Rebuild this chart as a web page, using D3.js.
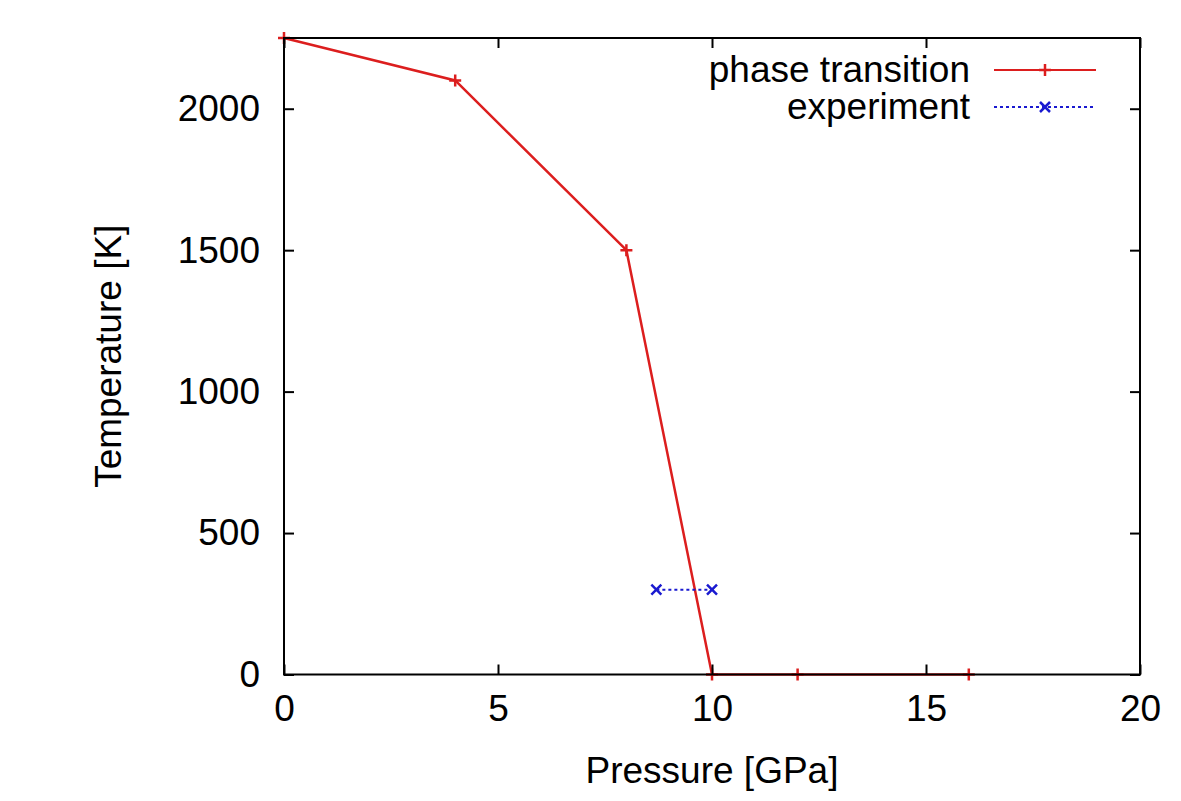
<!DOCTYPE html>
<html>
<head>
<meta charset="utf-8">
<script src="https://cdn.jsdelivr.net/npm/d3@7"></script>
<style>
  html, body { margin: 0; padding: 0; background: #fff; }
  svg { display: block; font-family: "Liberation Sans", Arial, sans-serif; }
</style>
</head>
<body>
<svg id="chart" width="1181" height="801"></svg>
<script>
// Phase boundary: pressure (GPa) vs temperature (K)
const phasePressure = [0, 4, 8, 10, 12, 16];
const phaseTemperature = [2250, 2100, 1500, 0, 0, 0];

// Experimental observations at room temperature
const expPressure = [8.7, 10];
const expTemperature = [300, 300];

const xTicks = [0, 5, 10, 15, 20];
const yTicks = [0, 500, 1000, 1500, 2000];

const seriesNames = ["phase transition", "experiment"];

const svg = d3.select("#chart");
const margin = { left: 284, right: 1140, top: 38, bottom: 674.5 };

const x = d3.scaleLinear().domain([0, 20]).range([margin.left, margin.right]);
const y = d3.scaleLinear().domain([0, 2250]).range([margin.bottom, margin.top]);

const fontSize = 37;
const tickLen = 10;
const red = "#dc1e1e";
const blue = "#1a1ad0";

// Data lines
const phase = phasePressure.map((p, i) => [p, phaseTemperature[i]]);
const exp = expPressure.map((p, i) => [p, expTemperature[i]]);

const line = d3.line().x(d => x(d[0])).y(d => y(d[1]));

svg.append("path").datum(phase)
  .attr("d", line).attr("fill", "none")
  .attr("stroke", red).attr("stroke-width", 2.5);

svg.append("path").datum(exp)
  .attr("d", line).attr("fill", "none")
  .attr("stroke", blue).attr("stroke-width", 2)
  .attr("stroke-dasharray", "3,3");

function plus(g, cx, cy, s, color) {
  g.append("path")
    .attr("d", `M${cx - s},${cy}H${cx + s}M${cx},${cy - s}V${cy + s}`)
    .attr("stroke", color).attr("stroke-width", 2.5).attr("fill", "none");
}
function cross(g, cx, cy, s, color) {
  g.append("path")
    .attr("d", `M${cx - s},${cy - s}L${cx + s},${cy + s}M${cx - s},${cy + s}L${cx + s},${cy - s}`)
    .attr("stroke", color).attr("stroke-width", 2.5).attr("fill", "none");
}

const marks = svg.append("g");
phase.forEach(d => plus(marks, x(d[0]), y(d[1]), 6, red));
exp.forEach(d => cross(marks, x(d[0]), y(d[1]), 5, blue));

// Inward ticks on all four sides, drawn with the scales
const bottomAxis = d3.axisBottom(x).tickValues(xTicks).tickSizeInner(-tickLen).tickSizeOuter(0)
  .tickPadding(20).tickFormat(d3.format("d"));
const topAxis = d3.axisTop(x).tickValues(xTicks).tickSizeInner(-tickLen).tickSizeOuter(0).tickFormat("");
const leftAxis = d3.axisLeft(y).tickValues(yTicks).tickSizeInner(-tickLen).tickSizeOuter(0)
  .tickPadding(24).tickFormat(d3.format("d"));
const rightAxis = d3.axisRight(y).tickValues(yTicks).tickSizeInner(-tickLen).tickSizeOuter(0).tickFormat("");

function style(g) {
  g.select(".domain").remove();
  g.selectAll(".tick line").attr("stroke", "#000").attr("stroke-width", 2);
  g.selectAll(".tick text").attr("fill", "#000").attr("font-size", fontSize)
    .attr("font-family", "Liberation Sans, Arial, sans-serif");
}

svg.append("g").attr("transform", `translate(0,${margin.bottom})`).call(bottomAxis).call(style);
svg.append("g").attr("transform", `translate(0,${margin.top})`).call(topAxis).call(style);
svg.append("g").attr("transform", `translate(${margin.left},0)`).call(leftAxis).call(style);
svg.append("g").attr("transform", `translate(${margin.right},0)`).call(rightAxis).call(style);

// Plot border
svg.append("rect")
  .attr("x", margin.left).attr("y", margin.top)
  .attr("width", margin.right - margin.left).attr("height", margin.bottom - margin.top)
  .attr("fill", "none").attr("stroke", "#000").attr("stroke-width", 2);

// Axis titles
svg.append("text")
  .attr("x", (margin.left + margin.right) / 2).attr("y", 783)
  .attr("text-anchor", "middle").attr("font-size", fontSize)
  .text("Pressure [GPa]");

svg.append("text")
  .attr("transform", `translate(121,${(margin.top + margin.bottom) / 2}) rotate(-90)`)
  .attr("text-anchor", "middle").attr("font-size", fontSize)
  .text("Temperature [K]");

// Legend
const legend = svg.append("g");
const legendRows = [
  { name: seriesNames[0], color: red, dash: null, mark: plus, y: 70 },
  { name: seriesNames[1], color: blue, dash: "3,3", mark: cross, y: 107 }
];
legendRows.forEach(r => {
  legend.append("text")
    .attr("x", 970).attr("y", r.y + 12)
    .attr("text-anchor", "end").attr("font-size", fontSize)
    .text(r.name);
  legend.append("line")
    .attr("x1", 994).attr("x2", 1096).attr("y1", r.y).attr("y2", r.y)
    .attr("stroke", r.color).attr("stroke-width", 2)
    .attr("stroke-dasharray", r.dash);
  r.mark(legend, 1045, r.y, r.mark === plus ? 6 : 5, r.color);
});
</script>
</body>
</html>
